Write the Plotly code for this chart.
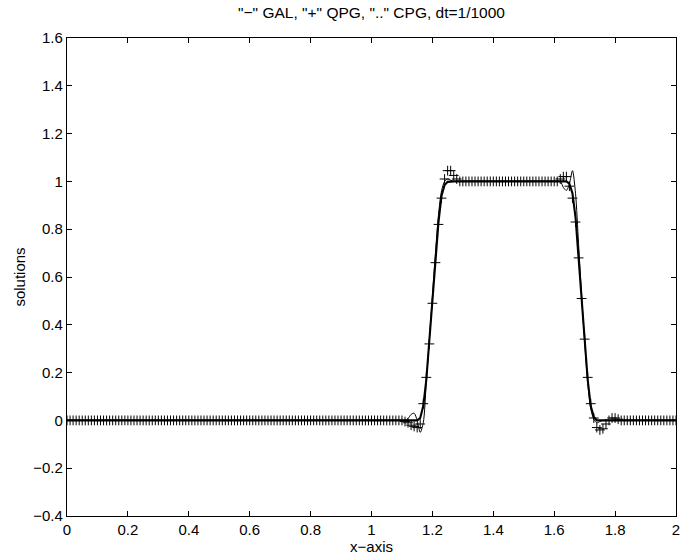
import numpy as np
import plotly.graph_objects as go

# grid x = 0, 0.01, ..., 2.00 (201 nodes)
x_grid = np.round(np.arange(0, 201) * 0.01, 2)

# values, split into the same five pieces for every scheme:
# zeros 0..1.10 | rising front 1.11..1.30 | plateau 1.31..1.61 | falling front 1.62..1.82 | zeros 1.83..2.00
N_LEFT_ZERO = 111
N_PLATEAU = 31
N_RIGHT_ZERO = 18

qpg_rise = [-0.005, -0.01, -0.02, -0.025, -0.03, -0.015, 0.07, 0.18, 0.32, 0.49,
            0.66, 0.82, 0.93, 1.01, 1.045, 1.045, 1.025, 1.01, 1.0, 1.0]
qpg_fall = [1.01, 1.02, 1.02, 0.98, 0.93, 0.83, 0.68, 0.51, 0.34, 0.18,
            0.07, 0.01, -0.03, -0.04, -0.035, -0.015, 0.0, 0.01, 0.01, 0.005, 0.0]

gal_rise = [0.0, 0.008, 0.025, 0.03, 0.0, -0.05, -0.01, 0.16, 0.34, 0.52,
            0.70, 0.86, 0.96, 1.0, 1.01, 1.005, 1.0, 1.0, 1.0, 1.0]
gal_fall = [1.0, 0.975, 0.962, 0.99, 1.045, 0.95, 0.74, 0.52, 0.33, 0.16,
            0.05, 0.005, -0.01, -0.005, 0.0, 0.0, 0.0, 0.0, 0.0, 0.0, 0.0]

cpg_rise = [0.0, 0.0, 0.0, 0.0, 0.0, 0.01, 0.06, 0.17, 0.33, 0.50,
            0.67, 0.83, 0.94, 0.985, 0.998, 1.0, 1.0, 1.0, 1.0, 1.0]
cpg_fall = [1.0, 1.0, 1.0, 0.99, 0.95, 0.85, 0.69, 0.51, 0.33, 0.17,
            0.06, 0.015, 0.0, 0.0, 0.0, 0.0, 0.0, 0.0, 0.0, 0.0, 0.0]


def assemble(rise, fall):
    return [0.0] * N_LEFT_ZERO + rise + [1.0] * N_PLATEAU + fall + [0.0] * N_RIGHT_ZERO


gal = assemble(gal_rise, gal_fall)
qpg = assemble(qpg_rise, qpg_fall)
cpg = assemble(cpg_rise, cpg_fall)

FONT = "Liberation Sans, Arial, Helvetica, sans-serif"

fig = go.Figure()

# CPG ".." - dense dots, read as a thick line
fig.add_trace(go.Scatter(
    x=x_grid, y=cpg, mode="lines",
    line=dict(color="black", width=2.1),
    name="CPG",
))

# GAL "-" thin solid line
fig.add_trace(go.Scatter(
    x=x_grid, y=gal, mode="lines",
    line=dict(color="black", width=1, shape="spline", smoothing=0.8),
    name="GAL",
))

# QPG "+" markers
fig.add_trace(go.Scatter(
    x=x_grid, y=qpg, mode="markers",
    marker=dict(symbol="cross-thin", size=7, line=dict(color="black", width=1)),
    name="QPG",
))

axis_common = dict(
    showline=True, linecolor="black", linewidth=1.2,
    mirror="allticks", ticks="inside", ticklen=5, tickcolor="black",
    showgrid=False, zeroline=False, automargin=False,
    ticklabeloverflow="allow",
    tickfont=dict(family=FONT, size=15, color="black"),
)

fig.update_layout(
    width=682, height=558,
    margin=dict(l=67, r=6, t=38, b=42),
    paper_bgcolor="white", plot_bgcolor="white",
    showlegend=False,
    font=dict(family=FONT, size=15, color="black"),
    title=dict(
        text='"\u2212" GAL, "+" QPG, ".." CPG, dt=1/1000',
        x=0.5, xref="paper", y=1 - 13 / 558, yref="container", yanchor="middle",
        font=dict(family=FONT, size=15.5, color="black"),
    ),
    xaxis=dict(
        range=[0, 2], dtick=0.2, tick0=0,
        title=dict(text="x\u2212axis", standoff=0, font=dict(family=FONT, size=15)),
        **axis_common,
    ),
    yaxis=dict(
        range=[-0.4, 1.6], dtick=0.2, tick0=0,
        title=dict(text="solutions", standoff=4, font=dict(family=FONT, size=15)),
        **axis_common,
    ),
)

# drop the browser's default body margin so the figure sits at the page corner
fig.write_html(
    "out.html",
    config={"displayModeBar": False},
    post_script="document.body.style.margin='0px';",
)
